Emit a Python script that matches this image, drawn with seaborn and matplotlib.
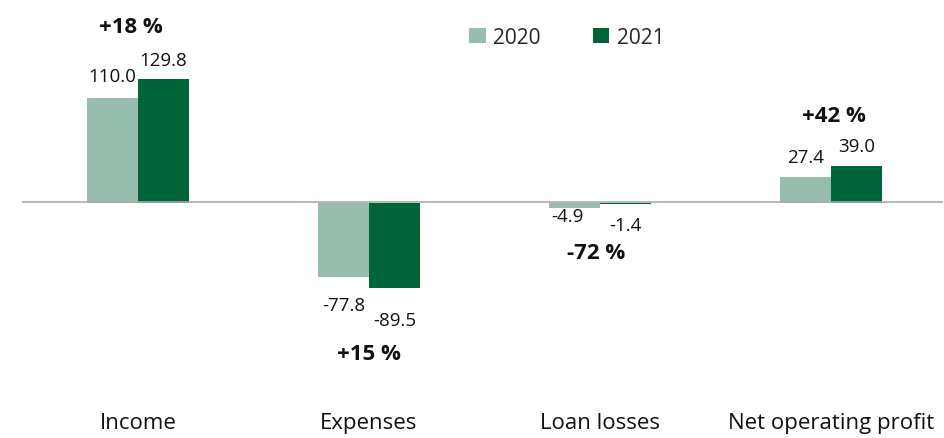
import matplotlib
matplotlib.use("Agg")
import matplotlib.pyplot as plt
import seaborn as sns
import pandas as pd

# ---- data ----
categories = ["Income", "Expenses", "Loan losses", "Net operating profit"]
years = ["2020", "2021"]
values_2020 = [110.0, -77.8, -4.9, 27.4]
values_2021 = [129.8, -89.5, -1.4, 39.0]
changes = ["+18 %", "+15 %", "-72 %", "+42 %"]

# ---- style / layout ----
C_2020 = "#97bdae"
C_2021 = "#00643a"
FONT = ["Open Sans", "DejaVu Sans"]
W, H, DPI = 944, 439, 100
AX_LEFT, AX_RIGHT, AX_TOP, AX_BOTTOM = 22, 943, 0, 410   # pixels
ZERO_PX, PX_PER_UNIT = 204, 0.952

# label offsets in pixels (dx, dy of baseline relative to bar end)
val_offsets_2020 = [(0, 17), (0, -33), (-7, -13), (0, 15)]
val_offsets_2021 = [(0, 14), (0, -37), (0, -26), (0, 15)]
pct_offsets = [(-7, 47), (0, -71), (-4, -50), (3, 45)]

sns.set_theme(style="white")
plt.rcParams["font.family"] = FONT

df = pd.DataFrame({
    "category": categories * 2,
    "year": [years[0]] * len(categories) + [years[1]] * len(categories),
    "value": values_2020 + values_2021,
})

fig = plt.figure(figsize=(W / DPI, H / DPI), dpi=DPI)
ax = fig.add_axes([AX_LEFT / W, (H - AX_BOTTOM) / H,
                   (AX_RIGHT - AX_LEFT) / W, (AX_BOTTOM - AX_TOP) / H])

sns.barplot(data=df, x="category", y="value", hue="year", order=categories,
            hue_order=years, palette=[C_2020, C_2021], width=0.44,
            saturation=1, linewidth=0, ax=ax)

# axes limits
ymax = (ZERO_PX - AX_TOP) / PX_PER_UNIT
ymin = -(AX_BOTTOM - ZERO_PX) / PX_PER_UNIT
ax.set_ylim(ymin, ymax)
ax.set_xlim(-0.502, 3.485)

ax.axhline(0.55, color="#aaaaaa", lw=1.2, zorder=5)
for s in ax.spines.values():
    s.set_visible(False)
ax.set_yticks([])
ax.set_xlabel("")
ax.set_ylabel("")
ax.tick_params(axis="x", length=0, pad=2.5, labelsize=16, labelcolor="#111111")

# value labels
for cont, vals, offs in [(ax.containers[0], values_2020, val_offsets_2020),
                         (ax.containers[1], values_2021, val_offsets_2021)]:
    for patch, v, (dx, dy) in zip(cont.patches, vals, offs):
        xc = patch.get_x() + patch.get_width() / 2
        ax.annotate(f"{v:.1f}", xy=(xc, v), xytext=(dx, dy),
                    textcoords="offset pixels", ha="center", va="baseline",
                    fontsize=13.5, color="#111111")

# percentage change labels
for i, (txt, (dx, dy)) in enumerate(zip(changes, pct_offsets)):
    a, b = values_2020[i], values_2021[i]
    ext = max(a, b) if dy > 0 else min(a, b)
    ax.annotate(txt, xy=(i, ext), xytext=(dx, dy), textcoords="offset pixels",
                ha="center", va="baseline", fontsize=16, fontweight="bold",
                color="#111111")

# legend
handles, labels = ax.get_legend_handles_labels()
if ax.get_legend() is not None:
    ax.get_legend().remove()
fig.legend(handles, labels, loc="center left",
           bbox_to_anchor=(469 / W, 1 - 38.5 / H), bbox_transform=fig.transFigure,
           ncol=2, frameon=False, fontsize=15, handlelength=0.8,
           handleheight=0.75, handletextpad=0.35, columnspacing=2.5,
           borderpad=0, borderaxespad=0)

fig.savefig("out.png", dpi=DPI)
